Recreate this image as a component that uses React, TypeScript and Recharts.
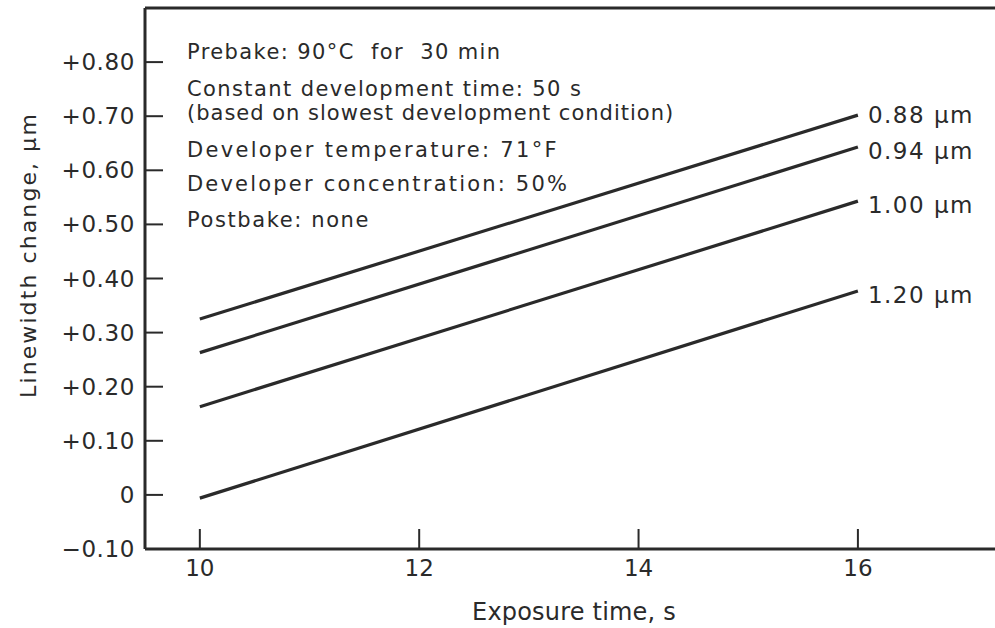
import React from "react";
import { LineChart, Line, XAxis, YAxis, Customized, LabelList, ReferenceLine } from "recharts";

const exposureTimes = [10, 16];
const lw088 = [0.325, 0.702];
const lw094 = [0.263, 0.643];
const lw100 = [0.163, 0.543];
const lw120 = [-0.006, 0.377];
const seriesLabels = ["0.88 \u00b5m", "0.94 \u00b5m", "1.00 \u00b5m", "1.20 \u00b5m"];
const yTicks = [-0.1, 0, 0.1, 0.2, 0.3, 0.4, 0.5, 0.6, 0.7, 0.8];
const yTickLabels = ["\u22120.10", "0", "+0.10", "+0.20", "+0.30", "+0.40", "+0.50", "+0.60", "+0.70", "+0.80"];
const xTicks = [10, 12, 14, 16];
const notes = [
  "Prebake: 90\u00b0C  for  30 min",
  "Constant development time: 50 s",
  "(based on slowest development condition)",
  "Developer temperature: 71\u00b0F",
  "Developer concentration: 50%",
  "Postbake: none",
];

const data = exposureTimes.map((t, i) => ({
  t,
  a: lw088[i],
  b: lw094[i],
  c: lw100[i],
  d: lw120[i],
}));

const FONT = "'DejaVu Sans', sans-serif";
const INK = "#2a2a2a";
const AXIS_X = 145;
const AXIS_Y = 549;

const YTick = (props: any) => {
  const { x, y, payload } = props;
  const idx = yTicks.findIndex((v) => Math.abs(v - payload.value) < 1e-6);
  return (
    <g>
      <line x1={AXIS_X} y1={y} x2={AXIS_X + 18} y2={y} stroke={INK} strokeWidth={2} />
      <text x={x} y={y + 8} textAnchor="end" fontFamily={FONT} fontSize={23} fill={INK} letterSpacing={0.6}>
        {idx >= 0 ? yTickLabels[idx] : ""}
      </text>
    </g>
  );
};

const XTick = (props: any) => {
  const { x, payload } = props;
  return (
    <g>
      <line x1={x} y1={AXIS_Y} x2={x} y2={AXIS_Y - 20} stroke={INK} strokeWidth={2} />
      <text x={x} y={AXIS_Y + 27} textAnchor="middle" fontFamily={FONT} fontSize={23} fill={INK}>
        {payload.value}
      </text>
    </g>
  );
};

const makeEndLabel = (li: number) => (props: any) => {
  const { x, y, index } = props;
  if (index !== exposureTimes.length - 1) return null;
  const dy = li === 0 ? 8 : 12;
  return (
    <text x={x + 10} y={y + dy} fontFamily={FONT} fontSize={23} fill={INK} letterSpacing={1.5}>
      {seriesLabels[li]}
    </text>
  );
};

const Notes = () => {
  const baselines = [59, 96, 120, 157, 191, 227];
  const spacing = [1.4, 1.4, 1.0, 2.3, 2.2, 1.6];
  return (
    <g>
      {notes.map((n, i) => (
        <text
          key={i}
          x={187}
          y={baselines[i]}
          fontFamily={FONT}
          fontSize={21}
          fill={INK}
          letterSpacing={spacing[i]}
          style={{ whiteSpace: "pre" }}
        >
          {n}
        </text>
      ))}
      <text
        x={0}
        y={0}
        transform="translate(36, 255) rotate(-90)"
        textAnchor="middle"
        fontFamily={FONT}
        fontSize={22}
        fill={INK}
        letterSpacing={2.1}
      >
        Linewidth change, {"\u00b5m"}
      </text>
      <text x={574} y={620} textAnchor="middle" fontFamily={FONT} fontSize={24} fill={INK} letterSpacing={0.2}>
        Exposure time, s
      </text>
    </g>
  );
};

export default function App() {
  const keys = ["a", "b", "c", "d"];
  return (
    <div style={{ position: "absolute", left: 0, top: 0, background: "#fff" }}>
      <LineChart width={995} height={628} data={data} margin={{ top: 8, right: 0, left: 0, bottom: 0 }}>
        <XAxis
          xAxisId="bottom"
          dataKey="t"
          type="number"
          domain={[9.5, 17.25]}
          ticks={xTicks}
          allowDataOverflow
          height={79}
          tickSize={0}
          tickMargin={12}
          tick={<XTick />}
          axisLine={{ stroke: INK, strokeWidth: 3 }}
          tickLine={false}
        />
        <YAxis
          type="number"
          domain={[-0.1, 0.9]}
          ticks={yTicks}
          allowDataOverflow
          width={145}
          tickSize={0}
          tickMargin={10}
          tick={<YTick />}
          axisLine={{ stroke: INK, strokeWidth: 3 }}
          tickLine={false}
        />
        <ReferenceLine xAxisId="bottom" y={0.9} stroke={INK} strokeWidth={3} />
        {keys.map((k, i) => (
          <Line
            key={k}
            xAxisId="bottom"
            dataKey={k}
            stroke={INK}
            strokeWidth={3.2}
            dot={false}
            isAnimationActive={false}
          >
            <LabelList dataKey={k} content={makeEndLabel(i)} />
          </Line>
        ))}
        <Customized component={Notes} />
      </LineChart>
    </div>
  );
}
